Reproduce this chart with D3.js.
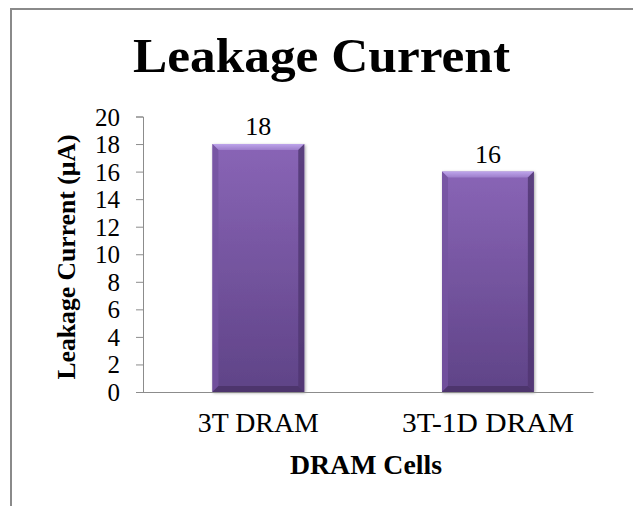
<!DOCTYPE html>
<html>
<head>
<meta charset="utf-8">
<script src="https://cdn.jsdelivr.net/npm/d3@7"></script>
<style>
  body { margin: 0; background: #fff; }
</style>
</head>
<body>
<div id="chart"></div>
<script>
// chart data
var categories = ["3T DRAM", "3T-1D DRAM"];
var leakage = [18, 16];
var yTicks = [0, 2, 4, 6, 8, 10, 12, 14, 16, 18, 20];

var serif = "'Liberation Serif', 'Times New Roman', serif";
var width = 633, height = 506;
var plot = {left: 143, right: 593, top: 116.5, bottom: 392};

var svg = d3.select("#chart").append("svg")
    .attr("width", width)
    .attr("height", height)
    .attr("font-family", serif);

var defs = svg.append("defs");

// gradients for bevelled bars
var face = defs.append("linearGradient").attr("id", "face")
    .attr("x1", 0).attr("y1", 0).attr("x2", 0).attr("y2", 1);
face.append("stop").attr("offset", "0%").attr("stop-color", "#8965b6");
face.append("stop").attr("offset", "100%").attr("stop-color", "#5f4387");

var topBevel = defs.append("linearGradient").attr("id", "topBevel")
    .attr("x1", 0).attr("y1", 0).attr("x2", 0).attr("y2", 1);
topBevel.append("stop").attr("offset", "0%").attr("stop-color", "#bda4ea");
topBevel.append("stop").attr("offset", "100%").attr("stop-color", "#9c7dca");

var shadow = defs.append("filter").attr("id", "shadow")
    .attr("x", "-20%").attr("y", "-10%").attr("width", "140%").attr("height", "120%");
shadow.append("feDropShadow").attr("dx", 1).attr("dy", 1).attr("stdDeviation", 1.5)
    .attr("flood-color", "#000").attr("flood-opacity", 0.35);

// outer frame (only left and top edges show)
svg.append("rect")
    .attr("x", 11).attr("y", 9)
    .attr("width", 700).attr("height", 600)
    .attr("fill", "none")
    .attr("stroke", "#8a8a8a")
    .attr("stroke-width", 2);

// scales
var x = d3.scaleBand()
    .domain(categories)
    .range([plot.left, plot.right])
    .paddingInner(0.6)
    .paddingOuter(0.28)
    .align(0.54);

var y = d3.scaleLinear()
    .domain([0, 20])
    .range([plot.bottom, plot.top]);

// title
svg.append("text")
    .attr("x", 133).attr("y", 72)
    .attr("textLength", 377)
    .attr("lengthAdjust", "spacingAndGlyphs")
    .attr("font-family", serif)
    .style("font-size", "48px")
    .style("font-weight", "bold")
    .text("Leakage Current");

// y axis
var yAxis = svg.append("g")
    .attr("transform", "translate(" + plot.left + ",0)")
    .call(d3.axisLeft(y).tickValues(yTicks).tickSize(7).tickPadding(16).tickSizeOuter(7));
yAxis.attr("font-family", serif).attr("font-size", 25);
yAxis.select(".domain").attr("stroke", "#8c8c8c");
yAxis.selectAll(".tick line").attr("stroke", "#8c8c8c");
yAxis.selectAll(".tick text")
    .attr("fill", "#000")
    .style("font-size", "25px")
    .attr("dy", "0.34em");

// x axis baseline
var xAxis = svg.append("g")
    .attr("transform", "translate(0," + plot.bottom + ")")
    .call(d3.axisBottom(x).tickSize(0).tickSizeOuter(0).tickPadding(21));
xAxis.attr("font-family", serif).attr("font-size", 27);
xAxis.select(".domain").attr("stroke", "#8c8c8c");
xAxis.selectAll(".tick text")
    .attr("fill", "#000")
    .style("font-size", "27px")
    .attr("dy", "0.71em")
    .attr("textLength", function(d, i) { return i == 0 ? 121 : 172; })
    .attr("lengthAdjust", "spacingAndGlyphs");

// axis titles
svg.append("text")
    .attr("text-anchor", "middle")
    .attr("transform", "translate(75," + 257 + ")rotate(-90)")
    .attr("textLength", 245)
    .attr("lengthAdjust", "spacingAndGlyphs")
    .attr("font-family", serif)
    .style("font-size", "25px")
    .style("font-weight", "bold")
    .text("Leakage Current (\u00b5A)");

svg.append("text")
    .attr("text-anchor", "middle")
    .attr("x", 366).attr("y", 474)
    .attr("textLength", 152)
    .attr("lengthAdjust", "spacingAndGlyphs")
    .attr("font-family", serif)
    .style("font-size", "27px")
    .style("font-weight", "bold")
    .text("DRAM Cells");

// bars
var bev = 6;
var bars = svg.selectAll(".bar")
    .data(leakage)
    .enter().append("g")
    .attr("class", "bar")
    .attr("filter", "url(#shadow)");

bars.append("rect")
    .attr("x", function(d, i) { return x(categories[i]); })
    .attr("y", function(d) { return y(d); })
    .attr("width", x.bandwidth())
    .attr("height", function(d) { return plot.bottom - y(d); })
    .attr("fill", "url(#face)");

// top bevel
bars.append("polygon")
    .attr("points", function(d, i) {
      var x0 = x(categories[i]), x1 = x0 + x.bandwidth(), t = y(d);
      return [[x0, t], [x1, t], [x1 - bev, t + bev], [x0 + bev, t + bev]].join(" ");
    })
    .attr("fill", "url(#topBevel)");

// left bevel
bars.append("polygon")
    .attr("points", function(d, i) {
      var x0 = x(categories[i]), t = y(d), b = plot.bottom;
      return [[x0, t], [x0 + bev, t + bev], [x0 + bev, b - bev], [x0, b]].join(" ");
    })
    .attr("fill", "#7453a0")
    .attr("opacity", 0.8);

// right bevel
bars.append("polygon")
    .attr("points", function(d, i) {
      var x1 = x(categories[i]) + x.bandwidth(), t = y(d), b = plot.bottom;
      return [[x1, t], [x1 - bev, t + bev], [x1 - bev, b - bev], [x1, b]].join(" ");
    })
    .attr("fill", "#4f3670")
    .attr("opacity", 0.8);

// bottom bevel
bars.append("polygon")
    .attr("points", function(d, i) {
      var x0 = x(categories[i]), x1 = x0 + x.bandwidth(), b = plot.bottom;
      return [[x0, b], [x1, b], [x1 - bev, b - bev], [x0 + bev, b - bev]].join(" ");
    })
    .attr("fill", "#4a3268")
    .attr("opacity", 0.85);

// value labels
svg.selectAll(".value")
    .data(leakage)
    .enter().append("text")
    .attr("class", "value")
    .attr("text-anchor", "middle")
    .attr("font-family", serif)
    .attr("x", function(d, i) { return x(categories[i]) + x.bandwidth() / 2; })
    .attr("y", function(d) { return y(d) - 9; })
    .style("font-size", "26px")
    .text(function(d) { return d; });

// redraw x baseline over bars
svg.append("line")
    .attr("x1", plot.left).attr("x2", plot.right)
    .attr("y1", plot.bottom + 0.5).attr("y2", plot.bottom + 0.5)
    .attr("stroke", "#8c8c8c");
</script>
</body>
</html>
